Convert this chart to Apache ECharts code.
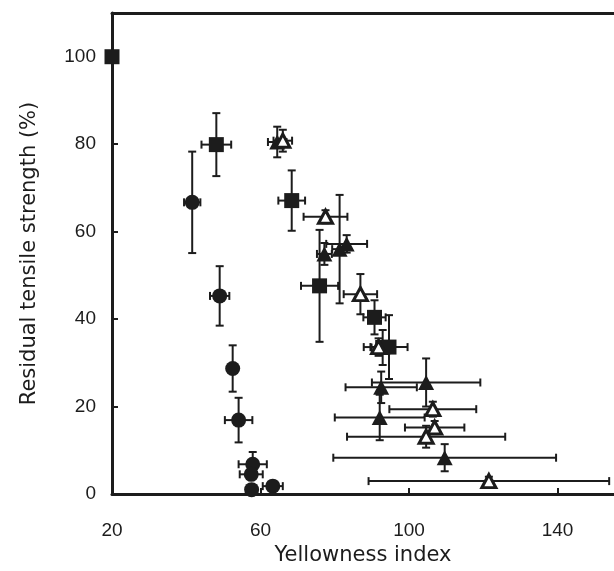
<!DOCTYPE html>
<html>
<head>
<meta charset="utf-8">
<script src="https://cdn.jsdelivr.net/npm/echarts@6/dist/echarts.min.js"></script>
<style>
html,body{margin:0;padding:0;background:#fff;}
#chart{width:614px;height:571px;}
</style>
</head>
<body>
<div id="chart"></div>
<script>
// ---- data ----
const xTicks = [20, 60, 100, 140];
const yTicks = [0, 20, 40, 60, 80, 100];

const circleX    = [41.6, 49.0, 52.5, 54.1, 57.9, 57.5, 57.6, 63.3];
const circleY    = [66.7, 45.3, 28.7, 16.9, 6.8, 4.5, 1.0, 1.8];
const circleXErr = [2.2, 2.6, 0, 3.7, 3.8, 3.1, 1.0, 2.7];
const circleYErr = [11.6, 6.8, 5.3, 5.1, 2.8, 1.0, 1.0, 1.0];

const squareX    = [20, 48.1, 68.4, 75.9, 90.7, 92.9, 94.6];
const squareY    = [100, 79.9, 67.1, 47.6, 40.4, 33.5, 33.6];
const squareXErr = [0, 4.0, 3.6, 5.0, 3.0, 3.0, 5.0];
const squareYErr = [0, 7.2, 6.9, 12.8, 3.9, 4.0, 7.3];

const filledTriX    = [64.5, 77.2, 81.3, 83.2, 92.5, 104.6, 92.1, 109.6];
const filledTriY    = [80.5, 54.9, 56.0, 57.2, 24.4, 25.5, 17.5, 8.3];
const filledTriXErr = [2.5, 2.0, 2.0, 5.5, 9.6, 14.6, 12.1, 30.0];
const filledTriYErr = [3.5, 2.5, 12.4, 2.0, 3.6, 5.5, 5.2, 3.1];

const openTriX    = [66.0, 77.5, 86.9, 91.8, 106.4, 106.9, 104.6, 121.5];
const openTriY    = [80.8, 63.4, 45.7, 33.6, 19.4, 15.2, 13.1, 2.95];
const openTriXErr = [2.5, 5.9, 4.5, 4.0, 11.7, 8.0, 21.3, 32.4];
const openTriYErr = [2.5, 1.5, 4.6, 2.0, 1.7, 1.5, 2.5, 1.0];

// ---- helpers ----
function zip(xs, ys, exs, eys) {
  return xs.map((x, i) => [x, ys[i], exs[i], eys[i]]);
}
const INK = '#1c1c1c';
function errRender(params, api) {
  const x = api.value(0), y = api.value(1), ex = api.value(2), ey = api.value(3);
  const c = api.coord([x, y]);
  const cap = 4;
  const st = { stroke: INK, lineWidth: 2 };
  const ch = [];
  const ln = (x1, y1, x2, y2) => ({ type: 'line', shape: { x1, y1, x2, y2 }, style: st });
  if (ey > 0) {
    const t = api.coord([x, y + ey])[1], b = api.coord([x, Math.max(0, y - ey)])[1];
    ch.push(ln(c[0], t, c[0], b), ln(c[0] - cap, t, c[0] + cap, t));
    if (y - ey > 0) ch.push(ln(c[0] - cap, b, c[0] + cap, b));
  }
  if (ex > 0) {
    const l = api.coord([x - ex, y])[0], r = api.coord([x + ex, y])[0];
    ch.push(ln(l, c[1], r, c[1]), ln(l, c[1] - cap, l, c[1] + cap), ln(r, c[1] - cap, r, c[1] + cap));
  }
  return { type: 'group', children: ch };
}
function errSeries(data) {
  return { type: 'custom', renderItem: errRender, data: data, encode: { x: 0, y: 1 }, z: 1, silent: true };
}
function markSeries(data, symbol, size, fill, border) {
  return {
    type: 'scatter', data: data.map(d => [d[0], d[1]]), symbol: symbol, symbolSize: size, z: 3,
    itemStyle: { color: fill, borderColor: INK, borderWidth: border, opacity: 1 }, silent: true
  };
}

const circles = zip(circleX, circleY, circleXErr, circleYErr);
const squares = zip(squareX, squareY, squareXErr, squareYErr);
const fTris = zip(filledTriX, filledTriY, filledTriXErr, filledTriYErr);
const oTris = zip(openTriX, openTriY, openTriXErr, openTriYErr);

const chart = echarts.init(document.getElementById('chart'), null, { renderer: 'canvas' });
const labelFont = { fontFamily: 'Liberation Sans, Arial, sans-serif', fontSize: 19, color: INK };
chart.setOption({
  animation: false,
  backgroundColor: '#fff',
  grid: { left: 112, top: 13, right: 0, bottom: 76, containLabel: false },
  xAxis: [{
    type: 'value', min: 20, max: 155.2, interval: 40,
    name: 'Yellowness index', nameLocation: 'middle', nameGap: 51,
    nameTextStyle: { fontFamily: 'DejaVu Sans, Verdana, sans-serif', fontSize: 21, color: INK },
    axisLine: { show: true, onZero: false, lineStyle: { color: INK, width: 3 } },
    axisTick: { show: true, inside: true, length: 6, lineStyle: { color: INK, width: 2 } },
    axisLabel: Object.assign({ margin: 27, showMaxLabel: false }, labelFont),
    splitLine: { show: false }
  }, {
    type: 'value', position: 'top', min: 20, max: 155.2,
    axisLine: { show: true, onZero: false, lineStyle: { color: INK, width: 3 } },
    axisTick: { show: false }, axisLabel: { show: false }, splitLine: { show: false }
  }],
  yAxis: {
    type: 'value', min: 0, max: 110, interval: 20,
    name: 'Residual tensile strength (%)', nameLocation: 'middle', nameGap: 72,
    nameTextStyle: { fontFamily: 'DejaVu Sans, Verdana, sans-serif', fontSize: 21, color: INK },
    axisLine: { show: true, onZero: false, lineStyle: { color: INK, width: 3 } },
    axisTick: { show: true, inside: true, length: 6, lineStyle: { color: INK, width: 2 } },
    axisLabel: Object.assign({ margin: 16, showMaxLabel: false }, labelFont),
    splitLine: { show: false }
  },
  series: [
    errSeries(circles), errSeries(squares), errSeries(fTris), errSeries(oTris),
    markSeries(circles, 'circle', 15, INK, 0),
    markSeries(squares, 'rect', 15, INK, 0),
    markSeries(fTris, 'triangle', [16, 15], INK, 0),
    markSeries(oTris, 'triangle', [14, 13], '#fff', 3)
  ]
});
</script>
</body>
</html>
